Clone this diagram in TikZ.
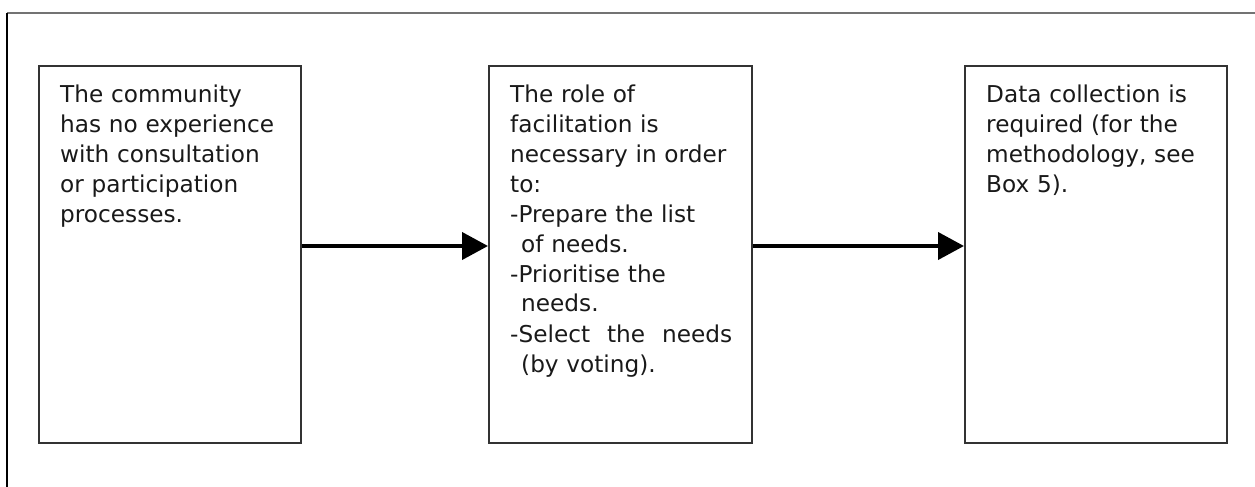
\documentclass[tikz,border=0pt]{standalone}
\usepackage{fontspec}
\setmainfont{DejaVu Sans}
\usetikzlibrary{arrows.meta}
\begin{document}
\begin{tikzpicture}[x=1pt,y=-1pt,
  box/.style={draw=black!80,line width=2pt,rectangle,minimum width=262pt,minimum height=377pt,inner sep=0pt},
  txt/.style={anchor=base west,inner sep=0pt,text width=250pt,align=left,text=black!90,font=\fontsize{23.2}{30}\selectfont},
  conn/.style={line width=4pt,-{Triangle[length=26pt,width=27pt]}},
  frame/.style={line width=1.5pt}]
\useasboundingbox (0,0) rectangle (1255,487);
\draw[frame,draw=black!55] (7,13) coordinate (fc) -- (1255,13) coordinate (fr);
\draw[frame,draw=black] (fc) -- (7,487) coordinate (fb);
\node[box] (b1) at (170,254.5) {};
\node[box,minimum width=263pt] (b2) at (620.5,254.5) {};
\node[box] (b3) at (1096,254.5) {};
\node[txt] (t1) at ([xshift=22pt,yshift=-37pt]b1.north west)
  {The community\\has no experience\\with consultation\\or participation\\processes.};
\node[txt] (t2) at ([xshift=22pt,yshift=-37pt]b2.north west)
  {The role of\\facilitation is\\necessary in order\\to:\\-Prepare the list\\\hspace*{11pt}of needs.\\-Prioritise the\\\hspace*{11pt}needs.\\-Select\hspace{17pt}the\hspace{17pt}needs\\\hspace*{11pt}(by voting).};
\node[txt] (t3) at ([xshift=22pt,yshift=-37pt]b3.north west)
  {Data collection is\\required (for the\\methodology, see\\Box 5).};
\draw[conn] ([yshift=8.5pt]b1.east) -- ([yshift=8.5pt]b2.west);
\draw[conn] ([yshift=8.5pt]b2.east) -- ([yshift=8.5pt]b3.west);
\end{tikzpicture}
\end{document}
